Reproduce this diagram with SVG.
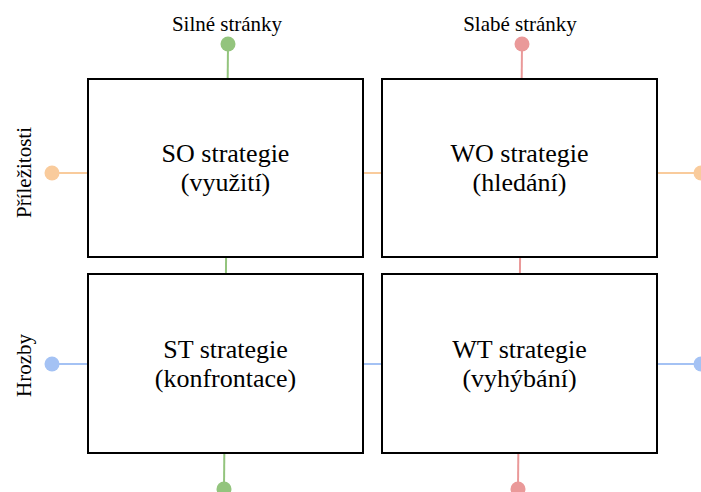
<svg xmlns="http://www.w3.org/2000/svg" width="701" height="492" viewBox="0 0 701 492">
<style>
.t{font-family:'Liberation Serif','DejaVu Serif',serif;fill:#000}
.lbl{font-size:21px}
.box rect{fill:#fff;stroke:#000;stroke-width:2}
.box text{font-size:26px;text-anchor:middle}
.ln{stroke-width:2;fill:none}
</style>
<rect width="701" height="492" fill="#fff"/>
<g id="connectors">
<line class="ln" x1="228" y1="44" x2="224" y2="489" stroke="#93c47d"/>
<circle cx="228" cy="44" r="7.5" fill="#93c47d"/>
<circle cx="224" cy="489" r="7.5" fill="#93c47d"/>
<line class="ln" x1="522" y1="44" x2="518" y2="489" stroke="#ea9999"/>
<circle cx="522" cy="44" r="7.5" fill="#ea9999"/>
<circle cx="518" cy="489" r="7.5" fill="#ea9999"/>
<line class="ln" x1="52" y1="173" x2="701" y2="173" stroke="#f9cb9c"/>
<circle cx="52" cy="173" r="7.5" fill="#f9cb9c"/>
<circle cx="701" cy="173" r="7.5" fill="#f9cb9c"/>
<line class="ln" x1="52" y1="364" x2="701" y2="364" stroke="#a4c2f4"/>
<circle cx="52" cy="364" r="7.5" fill="#a4c2f4"/>
<circle cx="701" cy="364" r="7.5" fill="#a4c2f4"/>
</g>
<g id="labels" font-family="Liberation Serif, DejaVu Serif, serif">
<text class="t lbl" x="227" y="31" text-anchor="middle">Silné stránky</text>
<text class="t lbl" x="520" y="31" text-anchor="middle">Slabé stránky</text>
<text class="t lbl" transform="translate(31,172.5) rotate(-90)" text-anchor="middle">Příležitosti</text>
<text class="t lbl" transform="translate(31,365.5) rotate(-90)" text-anchor="middle">Hrozby</text>
</g>
<g id="SO" class="box" font-family="Liberation Serif, DejaVu Serif, serif">
<rect x="88" y="79" width="275" height="178"/>
<text class="t" x="225.5" y="162">SO strategie</text>
<text class="t" x="225.5" y="191">(využití)</text>
</g>
<g id="WO" class="box" font-family="Liberation Serif, DejaVu Serif, serif">
<rect x="382" y="79" width="275" height="178"/>
<text class="t" x="519.5" y="162">WO strategie</text>
<text class="t" x="519.5" y="191">(hledání)</text>
</g>
<g id="ST" class="box" font-family="Liberation Serif, DejaVu Serif, serif">
<rect x="88" y="274" width="275" height="179"/>
<text class="t" x="225.5" y="357.5">ST strategie</text>
<text class="t" x="225.5" y="386.5">(konfrontace)</text>
</g>
<g id="WT" class="box" font-family="Liberation Serif, DejaVu Serif, serif">
<rect x="382" y="274" width="275" height="179"/>
<text class="t" x="519.5" y="357.5">WT strategie</text>
<text class="t" x="519.5" y="386.5">(vyhýbání)</text>
</g>
</svg>
